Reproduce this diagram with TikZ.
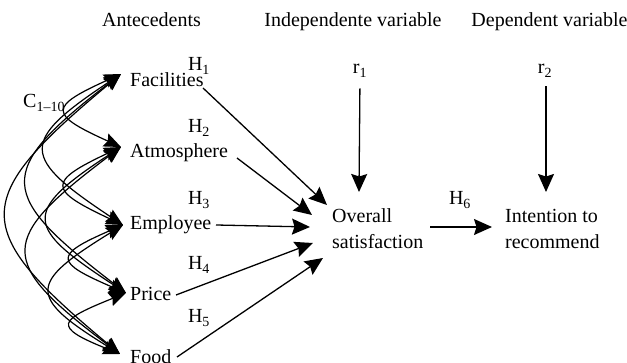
\documentclass[tikz,border=0pt]{standalone}
\usepackage{fontspec}
\setmainfont{Liberation Serif}
\usetikzlibrary{arrows.meta,calc}
\begin{document}
\begin{tikzpicture}[x=1pt,y=-1pt,
  font=\fontsize{20}{26}\selectfont,
  every node/.style={inner sep=0pt},
  lbl/.style={anchor=base},
  ante/.style={anchor=base west},
  arr/.style={-{Stealth[length=18pt,width=16pt,inset=2.5pt]}, line width=1.3pt},
  corr/.style={{Stealth[length=17pt,width=14pt,inset=2.5pt]}-{Stealth[length=17pt,width=14pt,inset=2.5pt]}, line width=1.2pt}]
\useasboundingbox (0,0) rectangle (627,363);
% headers
\node[lbl] (ant) at (151.5,27) {Antecedents};
\node[lbl] (ind) at (353,27) {Independente variable};
\node[lbl] (dep) at (549.5,27) {Dependent variable};
\node[lbl] (r1) at (360,74) {r\textsubscript{1}};
\node[lbl] (r2) at (545,74) {r\textsubscript{2}};
% antecedents
\node[ante] (fac) at (130,87) {Facilities};
\node[ante] (atm) at (130,158) {Atmosphere};
\node[ante] (emp) at (130,230) {Employee};
\node[ante] (pri) at (130,301) {Price};
\node[ante] (foo) at (130,364) {Food};
\node[ante] (cc) at (23,108) {C\textsubscript{1–10}};
% hypotheses labels
\node[lbl] (h1) at (199,71) {H\textsubscript{1}};
\node[lbl] (h2) at (199,133) {H\textsubscript{2}};
\node[lbl] (h3) at (199,205) {H\textsubscript{3}};
\node[lbl] (h4) at (199,270) {H\textsubscript{4}};
\node[lbl] (h5) at (199,323) {H\textsubscript{5}};
\node[lbl] (h6) at (460,205) {H\textsubscript{6}};
% outcomes
\node[anchor=north west, align=left] (ovr) at (332,208) {Overall\\satisfaction};
\node[anchor=north west, align=left] (int) at (505,209) {Intention to\\recommend};
% ports
\coordinate (pF) at (121,74);
\coordinate (pA) at (121,147);
\coordinate (pE) at (123,225);
\coordinate (pP) at (126,293);
\coordinate (pD) at (120,354);
\coordinate (fR) at (203,88);
\coordinate (aR) at (237,158);
\coordinate (eR) at (216,225);
\coordinate (prR) at (176,295);
\coordinate (dR) at (177,357);
\coordinate (o1) at (327,205);
\coordinate (o2) at (312,215);
\coordinate (o3) at (310,227);
\coordinate (o4) at (313,243);
\coordinate (o5) at (323,258);
\coordinate (oT) at (359,192);
\coordinate (iT) at (546,192);
\coordinate (oR) at (430,227);
\coordinate (iL) at (492,227);
% arrows to overall satisfaction
\draw[arr] (fR) -- (o1);
\draw[arr] (aR) -- (o2);
\draw[arr] (eR) -- (o3);
\draw[arr] (prR) -- (o4);
\draw[arr] (dR) -- (o5);
\draw[arr, shorten <=11pt] (r1.south) -- (oT);
\draw[arr, shorten <=9pt] (r2.south -| iT) -- (iT);
\draw[arr] (oR) -- (iL);
% correlations
\foreach \s/\t/\d in {pF/pA/73, pF/pE/151, pF/pP/219, pF/pD/280, pA/pE/78, pA/pP/146, pA/pD/207, pE/pP/68, pE/pD/129, pP/pD/61} {
  \pgfmathsetmacro\aa{0.38*\d+45}
  \pgfmathsetmacro\bb{0.45*\d}
  \draw[corr] (\s) .. controls ($(\s)+(-\aa,\bb)$) and ($(\t)+(-\aa,-\bb)$) .. (\t);
}
\end{tikzpicture}
\end{document}
